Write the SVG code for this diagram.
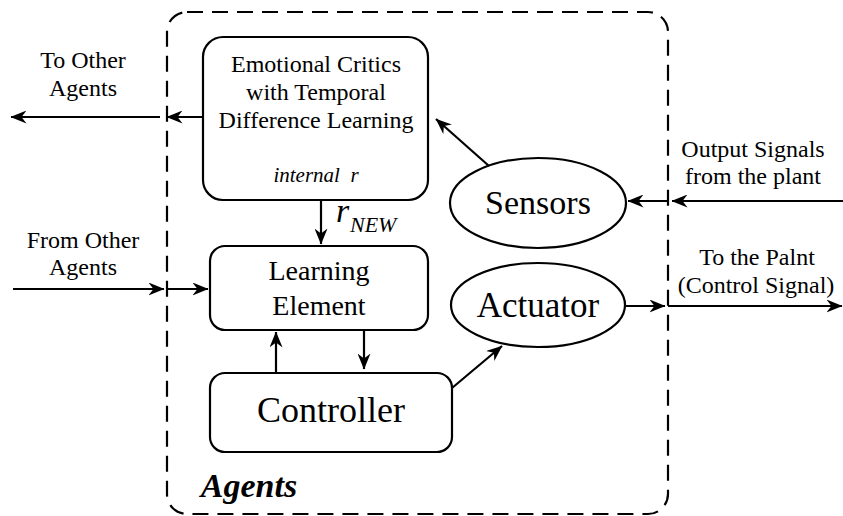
<svg xmlns="http://www.w3.org/2000/svg" width="843" height="516" viewBox="0 0 843 516">
<defs>
<marker id="ah" viewBox="0 0 16 13" refX="15.5" refY="6.5" markerWidth="16" markerHeight="13" markerUnits="userSpaceOnUse" orient="auto">
<path d="M0,0 L16,6.5 L0,13 L5,6.5 z" fill="#000"/>
</marker>
</defs>
<style>
.box{fill:#fff;stroke:#000;stroke-width:2.2}
.ln{fill:none;stroke:#000;stroke-width:2.2;marker-end:url(#ah)}
text{font-family:'Liberation Serif','DejaVu Serif',serif;fill:#000}
.t{text-anchor:middle}
</style>
<rect width="843" height="516" fill="#fff"/>
<g id="agents">
<rect x="167" y="12" width="501" height="502" rx="20" fill="none" stroke="#000" stroke-width="2.2" stroke-dasharray="16 9"/>
<text class="t" x="249" y="497" font-size="34" font-weight="bold" font-style="italic">Agents</text>
</g>
<g id="critics">
<rect class="box" x="203" y="37" width="225" height="163" rx="20"/>
<text class="t" x="316" y="72" font-size="24">Emotional Critics</text>
<text class="t" x="316" y="100" font-size="24">with Temporal</text>
<text class="t" x="316" y="128" font-size="24">Difference Learning</text>
<text class="t" x="316" y="182" font-size="21" font-style="italic" xml:space="preserve">internal  r</text>
</g>
<g id="learning">
<rect class="box" x="210" y="246" width="218" height="84" rx="15"/>
<text class="t" x="319" y="280" font-size="28">Learning</text>
<text class="t" x="319" y="315" font-size="28">Element</text>
</g>
<g id="controller">
<rect class="box" x="210" y="373" width="242" height="79" rx="15"/>
<text class="t" x="331" y="422" font-size="36">Controller</text>
</g>
<g id="sensors">
<ellipse class="box" cx="538" cy="203" rx="88" ry="45"/>
<text class="t" x="538" y="214" font-size="34">Sensors</text>
</g>
<g id="actuator">
<ellipse class="box" cx="538" cy="305" rx="87" ry="42"/>
<text class="t" x="538" y="317" font-size="35">Actuator</text>
</g>
<g id="labels">
<text class="t" x="83" y="68" font-size="24">To Other</text>
<text class="t" x="83" y="96" font-size="24">Agents</text>
<text class="t" x="83" y="248" font-size="24">From Other</text>
<text class="t" x="83" y="275" font-size="24">Agents</text>
<text class="t" x="753" y="157" font-size="24">Output Signals</text>
<text class="t" x="753" y="184" font-size="24">from the plant</text>
<text class="t" x="757" y="265" font-size="24">To the Palnt</text>
<text class="t" x="756" y="293" font-size="24">(Control Signal)</text>
<text x="336" y="222" font-size="34" font-style="italic">r</text>
<text x="350" y="232" font-size="22" font-style="italic">NEW</text>
</g>
<g id="connectors">
<line class="ln" x1="203" y1="117" x2="167" y2="117"/>
<line class="ln" x1="160" y1="117" x2="11" y2="117"/>
<line class="ln" x1="321" y1="201" x2="321" y2="244"/>
<line class="ln" x1="13" y1="289" x2="164" y2="289"/>
<line class="ln" x1="167" y1="289" x2="208" y2="289"/>
<line class="ln" x1="276" y1="373" x2="276" y2="332"/>
<line class="ln" x1="364" y1="330" x2="364" y2="369"/>
<line class="ln" x1="452" y1="388" x2="502" y2="346"/>
<line class="ln" x1="489" y1="166" x2="436" y2="119"/>
<line class="ln" x1="668" y1="201" x2="628" y2="201"/>
<line class="ln" x1="843" y1="201" x2="672" y2="201"/>
<line class="ln" x1="626" y1="306" x2="665" y2="306"/>
<line class="ln" x1="668" y1="306" x2="842" y2="306"/>
</g>
</svg>
